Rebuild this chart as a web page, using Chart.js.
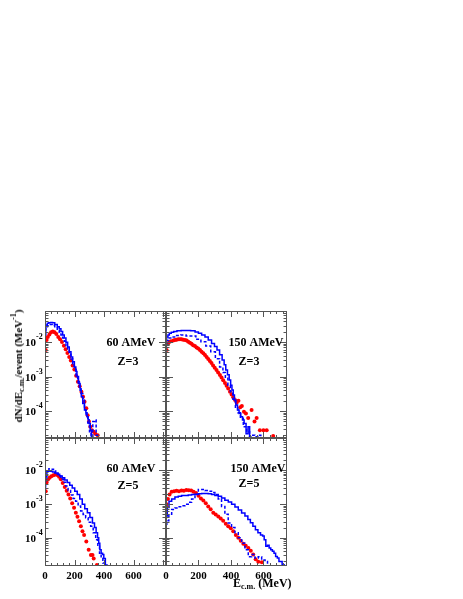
<!DOCTYPE html>
<html>
<head>
<meta charset="utf-8">
<script src="https://cdn.jsdelivr.net/npm/chart.js@4.4.1/dist/chart.umd.min.js"></script>
<style>
  body { margin: 0; background: #fff; }
  #wrap { position: relative; width: 463px; height: 599px; }
  #wrap canvas { position: absolute; left: 0; top: 0; }
  .lbl { position: absolute; font: bold 12px "Liberation Serif", "Times New Roman", serif; color: #000; white-space: nowrap; line-height: 1; }
  .lbl sub { font-size: 8px; vertical-align: -2px; }
  .lbl sup { font-size: 8px; vertical-align: 6px; }
  #ytitle { left: 18px; top: 366px; font-size: 11px; transform: translate(-50%, -50%) rotate(-90deg); }
  #xtitle { left: 233px; top: 577px; }
</style>
</head>
<body>
<div id="wrap">
  <canvas id="pTL" width="463" height="599"></canvas>
  <canvas id="pTR" width="463" height="599"></canvas>
  <canvas id="pBL" width="463" height="599"></canvas>
  <canvas id="pBR" width="463" height="599"></canvas>
  <div class="lbl" id="ytitle">dN/dE<sub>c.m.</sub>/event (MeV<sup>-1</sup>)</div>
  <div class="lbl" id="xtitle">E<sub>c.m.</sub> (MeV)</div>
</div>
<script>
// ---- data (E in MeV, dN/dE in 1/MeV) ----

// 60 AMeV, Z=3
var tlSolidE = [0, 11, 20, 30, 45, 57, 75, 91, 102, 114, 125, 136, 148, 159, 170, 182, 193, 205, 213, 220, 234, 242, 250, 262, 273, 281, 289, 296, 302, 311, 318, 325];
var tlSolidV = [2.0e-2, 3.1e-2, 3.5e-2, 3.6e-2, 3.7e-2, 3.6e-2, 3.2e-2, 2.75e-2, 2.4e-2, 2.0e-2, 1.6e-2, 1.3e-2, 9.8e-3, 7.2e-3, 5.2e-3, 3.7e-3, 2.7e-3, 1.9e-3, 1.4e-3, 1.0e-3, 6.3e-4, 4.0e-4, 2.6e-4, 1.66e-4, 1.07e-4, 8.9e-5, 6.8e-5, 5.6e-5, 4.4e-5, 2.8e-5, 1.8e-5, 1.0e-5];
var tlDashE = [0, 11, 22, 34, 45, 57, 75, 91, 102, 114, 125, 136, 148, 159, 170, 182, 193, 205, 216, 227, 239, 250, 262, 273, 284, 296, 307, 318, 330, 341, 352, 360];
var tlDashV = [1.6e-2, 2.5e-2, 2.95e-2, 3.2e-2, 3.2e-2, 3.0e-2, 2.6e-2, 2.2e-2, 1.9e-2, 1.6e-2, 1.3e-2, 1.05e-2, 7.9e-3, 6.0e-3, 4.4e-3, 3.2e-3, 2.2e-3, 1.6e-3, 1.05e-3, 7.1e-4, 4.7e-4, 3.2e-4, 2.1e-4, 1.1e-4, 7.9e-5, 4.5e-5, 2.5e-5, 1.8e-5, 5.0e-5, 5.5e-5, 2.0e-5, 1.0e-5];
var tlRedE = [5, 11, 19, 30, 41, 53, 65, 77, 90, 102, 115, 128, 140, 152, 164, 175, 187, 199, 211, 223, 235, 247, 258, 268, 280, 289, 298, 307, 318, 330, 341, 357];
var tlRedV = [5.9e-3, 1.15e-2, 1.4e-2, 1.66e-2, 1.9e-2, 2.0e-2, 1.9e-2, 1.7e-2, 1.4e-2, 1.2e-2, 1.0e-2, 7.8e-3, 6.2e-3, 4.8e-3, 3.7e-3, 2.9e-3, 2.1e-3, 1.6e-3, 1.05e-3, 7.1e-4, 5.2e-4, 3.6e-4, 2.6e-4, 1.86e-4, 1.2e-4, 7.6e-5, 5.0e-5, 3.5e-5, 2.8e-5, 2.5e-5, 2.2e-5, 2.0e-5];

// 150 AMeV, Z=3
var trSolidE = [0, 8, 16, 25, 40, 55, 80, 107, 135, 168, 190, 209, 230, 250, 270, 291, 306, 322, 338, 353, 363, 373, 384, 394, 402, 410, 418, 425, 435, 445, 455, 466, 476, 486, 500, 510, 520, 530];
var trSolidV = [1.1e-2, 1.4e-2, 1.6e-2, 1.8e-2, 1.9e-2, 2.0e-2, 2.1e-2, 2.15e-2, 2.15e-2, 2.1e-2, 1.95e-2, 1.8e-2, 1.6e-2, 1.4e-2, 1.15e-2, 9.1e-3, 7.4e-3, 5.9e-3, 4.3e-3, 3.0e-3, 2.2e-3, 1.55e-3, 1.12e-3, 7.9e-4, 5.6e-4, 4.1e-4, 2.9e-4, 2.1e-4, 1.5e-4, 1.07e-4, 8.5e-5, 6.8e-5, 5.5e-5, 4.4e-5, 2.2e-5, 3.5e-5, 1.6e-5, 1.0e-5];
var trDashE = [0, 10, 25, 45, 75, 107, 140, 168, 200, 230, 260, 291, 317, 343, 358, 373, 389, 404, 420, 435, 450, 466, 486, 507, 522, 537, 557, 578, 590];
var trDashV = [7.9e-3, 1.1e-2, 1.3e-2, 1.4e-2, 1.55e-2, 1.6e-2, 1.5e-2, 1.5e-2, 1.2e-2, 1.02e-2, 7.6e-3, 5.2e-3, 3.3e-3, 1.9e-3, 1.3e-3, 8.9e-4, 5.6e-4, 3.6e-4, 2.2e-4, 1.3e-4, 8.9e-5, 6.2e-5, 3.5e-5, 2.5e-5, 1.8e-5, 2.0e-5, 1.8e-5, 2.0e-5, 1.0e-5];
var trRedE = [4, 12, 20, 30, 45, 55, 65, 75, 86, 96, 106, 117, 127, 137, 147, 157, 167, 178, 188, 198, 209, 219, 230, 240, 250, 260, 270, 280, 290, 300, 311, 321, 332, 342, 352, 363, 373, 383, 394, 404, 414, 425, 435, 446, 457, 467, 480, 492, 506, 527, 545, 558, 578, 600, 620, 660];
var trRedV = [5.9e-3, 8.7e-3, 1.0e-2, 1.05e-2, 1.1e-2, 1.15e-2, 1.17e-2, 1.2e-2, 1.2e-2, 1.2e-2, 1.17e-2, 1.15e-2, 1.1e-2, 1.02e-2, 9.5e-3, 8.9e-3, 8.1e-3, 7.6e-3, 6.9e-3, 6.5e-3, 5.9e-3, 5.2e-3, 4.7e-3, 4.2e-3, 3.7e-3, 3.2e-3, 2.8e-3, 2.45e-3, 2.1e-3, 1.8e-3, 1.55e-3, 1.3e-3, 1.1e-3, 9.3e-4, 7.8e-4, 6.5e-4, 5.4e-4, 4.5e-4, 3.6e-4, 3.0e-4, 2.5e-4, 2.1e-4, 1.74e-4, 2.0e-4, 1.3e-4, 1.4e-4, 9.5e-5, 8.5e-5, 6.3e-5, 1.07e-4, 5.0e-5, 6.3e-5, 2.8e-5, 2.8e-5, 2.8e-5, 1.9e-5];
var trEdgeE = [0, 0];
var trEdgeV = [1e-6, 1];

// 60 AMeV, Z=5
var blSolidE = [0, 11, 20, 30, 45, 57, 75, 91, 108, 125, 142, 159, 176, 193, 210, 227, 244, 261, 278, 296, 313, 330, 341, 352, 360, 368, 375, 386, 395, 402, 416, 425];
var blSolidV = [5.4e-3, 8.5e-3, 9.3e-3, 9.5e-3, 9.3e-3, 8.9e-3, 8.3e-3, 7.6e-3, 6.8e-3, 6.0e-3, 5.1e-3, 4.3e-3, 3.6e-3, 3.0e-3, 2.4e-3, 1.9e-3, 1.4e-3, 9.8e-4, 7.2e-4, 5.5e-4, 4.0e-4, 2.75e-4, 2.0e-4, 1.4e-4, 1.0e-4, 6.9e-5, 4.4e-5, 3.5e-5, 3.2e-5, 2.45e-5, 1.55e-5, 1.0e-5];
var blDashE = [0, 8, 18, 35, 50, 65, 80, 98, 115, 132, 148, 165, 182, 199, 216, 233, 250, 267, 284, 301, 318, 335, 352, 364, 375, 386, 398, 410];
var blDashV = [3.2e-3, 6.3e-3, 9.5e-3, 1.1e-2, 1.07e-2, 9.5e-3, 8.3e-3, 6.9e-3, 5.5e-3, 4.4e-3, 3.4e-3, 2.5e-3, 1.86e-3, 1.45e-3, 1.2e-3, 8.7e-4, 6.2e-4, 4.9e-4, 3.9e-4, 2.9e-4, 2.2e-4, 1.4e-4, 8.7e-5, 5.6e-5, 3.5e-5, 2.5e-5, 1.8e-5, 1.0e-5];
var blRedE = [5, 11, 20, 31, 43, 57, 70, 83, 95, 107, 120, 134, 147, 159, 171, 184, 197, 209, 220, 231, 243, 254, 265, 280, 296, 311, 322, 330, 352];
var blRedV = [2.4e-3, 4.3e-3, 5.3e-3, 6.0e-3, 6.6e-3, 7.1e-3, 7.5e-3, 7.2e-3, 6.4e-3, 5.4e-3, 4.2e-3, 3.2e-3, 2.45e-3, 1.9e-3, 1.45e-3, 1.05e-3, 7.7e-4, 5.5e-4, 4.2e-4, 3.1e-4, 2.2e-4, 1.55e-4, 1.2e-4, 7.8e-5, 4.4e-5, 3.1e-5, 3.1e-5, 2.45e-5, 1.55e-5];

// 150 AMeV, Z=5
var brSolidE = [0, 4, 12, 25, 45, 65, 86, 106, 127, 147, 168, 188, 209, 230, 250, 270, 291, 311, 332, 352, 373, 394, 414, 435, 455, 476, 496, 512, 527, 543, 558, 574, 590, 600, 609, 620, 630, 640, 650, 660, 670, 680, 691, 700, 710, 720, 735];
var brSolidV = [3.2e-4, 4.4e-4, 7.9e-4, 1.2e-3, 1.4e-3, 1.6e-3, 1.7e-3, 1.8e-3, 1.8e-3, 1.86e-3, 1.9e-3, 1.95e-3, 2.0e-3, 2.05e-3, 2.05e-3, 2.0e-3, 1.9e-3, 1.8e-3, 1.7e-3, 1.5e-3, 1.3e-3, 1.15e-3, 9.8e-4, 8.1e-4, 6.6e-4, 5.4e-4, 4.4e-4, 3.5e-4, 2.8e-4, 2.2e-4, 1.74e-4, 1.4e-4, 1.2e-4, 1.12e-4, 8.7e-5, 5.6e-5, 6.0e-5, 5.0e-5, 4.4e-5, 4.0e-5, 3.5e-5, 2.8e-5, 2.5e-5, 2.0e-5, 2.0e-5, 1.6e-5, 1.26e-5];
var brDashE = [0, 10, 25, 45, 65, 86, 106, 127, 147, 168, 189, 209, 230, 250, 270, 291, 311, 332, 352, 373, 393, 414, 435, 455, 476, 496, 517, 537, 558, 578, 600, 620, 630];
var brDashV = [2.5e-4, 3.2e-4, 5.0e-4, 6.9e-4, 7.6e-4, 8.3e-4, 8.9e-4, 9.8e-4, 1.12e-3, 1.4e-3, 1.9e-3, 2.7e-3, 2.7e-3, 2.5e-3, 2.4e-3, 2.2e-3, 1.9e-3, 1.4e-3, 8.5e-4, 5.0e-4, 2.75e-4, 2.0e-4, 1.4e-4, 1.0e-4, 6.9e-5, 4.4e-5, 2.75e-5, 3.2e-5, 2.5e-5, 2.75e-5, 2.2e-5, 2.0e-5, 1.0e-5];
var brRedE = [4, 12, 22, 35, 50, 65, 80, 96, 110, 125, 140, 155, 170, 185, 200, 215, 230, 245, 260, 275, 291, 306, 322, 337, 352, 368, 383, 399, 414, 430, 445, 460, 476, 491, 507, 522, 537, 552, 568, 590];
var brRedV = [9.8e-4, 1.4e-3, 1.9e-3, 2.3e-3, 2.4e-3, 2.45e-3, 2.4e-3, 2.5e-3, 2.45e-3, 2.6e-3, 2.55e-3, 2.5e-3, 2.3e-3, 2.1e-3, 1.75e-3, 1.45e-3, 1.26e-3, 1.05e-3, 8.5e-4, 7.0e-4, 5.5e-4, 4.9e-4, 4.3e-4, 3.7e-4, 3.2e-4, 2.6e-4, 2.2e-4, 1.9e-4, 1.55e-4, 1.2e-4, 1.0e-4, 8.2e-5, 6.6e-5, 5.8e-5, 5.0e-5, 4.1e-5, 3.2e-5, 2.3e-5, 1.95e-5, 1.9e-5];
var brEdgeE = [0, 0];
var brEdgeV = [2.5e-4, 1];

// axis ticks
var xTickLabels = [0, 200, 400, 600];
var yTickExps = [-4, -3, -2];

function pts(xs, ys) {
  return xs.map(function(x, i) { return { x: x, y: ys[i] }; });
}

// ROOT-like frame: box, inward ticks on all sides, labels, panel text
var rootFrame = {
  id: 'rootFrame',
  afterDraw: function(chart, args, o) {
    var ctx = chart.ctx, a = chart.chartArea;
    var xs = chart.scales.x, ys = chart.scales.y;
    ctx.save();
    ctx.strokeStyle = '#555';
    ctx.lineWidth = 1;
    ctx.strokeRect(Math.round(a.left) + 0.5, Math.round(a.top) + 0.5, Math.round(a.width) - 1, Math.round(a.height) - 1);

    ctx.beginPath();
    // y ticks (log decades)
    for (var e = -6; e <= 0; e++) {
      for (var k = 1; k <= 9; k++) {
        var v = k * Math.pow(10, e);
        if (v < ys.min || v > ys.max) continue;
        var py = Math.round(ys.getPixelForValue(v)) + 0.5;
        var len = k === 1 ? 7 : 3.5;
        ctx.moveTo(a.left, py); ctx.lineTo(a.left + len, py);
        ctx.moveTo(a.right, py); ctx.lineTo(a.right - len, py);
      }
    }
    // x ticks
    for (var t = 0; t <= xs.max; t += 40) {
      var px = Math.round(xs.getPixelForValue(t)) + 0.5;
      var l2 = t % 200 === 0 ? 6 : 3;
      ctx.moveTo(px, a.bottom); ctx.lineTo(px, a.bottom - l2);
      ctx.moveTo(px, a.top); ctx.lineTo(px, a.top + l2);
    }
    ctx.stroke();

    ctx.fillStyle = '#000';
    if (o.yLabels) {
      yTickExps.forEach(function(ex) {
        var py = ys.getPixelForValue(Math.pow(10, ex));
        ctx.font = 'bold 11px "Liberation Serif", serif';
        ctx.textAlign = 'right';
        ctx.fillText('10', a.left - 9, py + 4);
        ctx.font = 'bold 8px "Liberation Serif", serif';
        ctx.textAlign = 'left';
        ctx.fillText(String(ex), a.left - 9, py - 3);
      });
    }
    if (o.xLabels) {
      ctx.font = 'bold 11px "Liberation Serif", serif';
      ctx.textAlign = 'center';
      xTickLabels.forEach(function(t) {
        ctx.fillText(String(t), xs.getPixelForValue(t), a.bottom + 13);
      });
    }
    if (o.text) {
      ctx.font = 'bold 12px "Liberation Serif", serif';
      ctx.textAlign = 'center';
      o.text.forEach(function(s, i) {
        ctx.fillText(s, a.left + o.textX[i], a.top + o.textY[i]);
      });
    }
    ctx.restore();
  }
};

function makePanel(id, rect, xMax, yMin, yMax, series, frameOpts) {
  var cv = document.getElementById(id);
  var W = cv.width, H = cv.height;
  var ds = [
    { data: series.solid, showLine: true, borderColor: '#0000ff', borderWidth: 1.5, pointRadius: 0, stepped: 'middle', fill: false },
    { data: series.dash, showLine: true, borderColor: '#0000ff', borderWidth: 1.5, borderDash: [3, 2], pointRadius: 0, stepped: 'middle', fill: false },
    { data: series.red, showLine: false, pointRadius: 2, pointBackgroundColor: '#ff0000', pointBorderWidth: 0 }
  ];
  if (series.edge) {
    ds.push({ data: series.edge, showLine: true, borderColor: '#0000ff', borderWidth: 1.5, pointRadius: 0 });
  }
  return new Chart(cv, {
    type: 'scatter',
    data: { datasets: ds },
    options: {
      responsive: false,
      animation: false,
      layout: { padding: { left: rect[0], top: rect[1], right: W - rect[2], bottom: H - rect[3] } },
      plugins: { legend: { display: false }, tooltip: { enabled: false }, rootFrame: frameOpts },
      scales: {
        x: { type: 'linear', min: 0, max: xMax, display: false },
        y: { type: 'logarithmic', min: yMin, max: yMax, display: false }
      }
    },
    plugins: [rootFrame]
  });
}

var LEFT_XMAX = 820, RIGHT_XMAX = 745;
var TOP_YMIN = 1.66e-5, TOP_YMAX = 0.079;
var BOT_YMIN = 1.46e-5, BOT_YMAX = 0.09;

makePanel('pTL', [45, 311, 166, 438], LEFT_XMAX, TOP_YMIN, TOP_YMAX,
  { solid: pts(tlSolidE, tlSolidV), dash: pts(tlDashE, tlDashV), red: pts(tlRedE, tlRedV) },
  { yLabels: true, xLabels: false, text: ['60 AMeV', 'Z=3'], textX: [86, 83], textY: [35, 54] });
makePanel('pTR', [166, 311, 287, 438], RIGHT_XMAX, TOP_YMIN, TOP_YMAX,
  { solid: pts(trSolidE, trSolidV), dash: pts(trDashE, trDashV), red: pts(trRedE, trRedV), edge: pts(trEdgeE, trEdgeV) },
  { yLabels: false, xLabels: false, text: ['150 AMeV', 'Z=3'], textX: [90, 83], textY: [35, 54] });
makePanel('pBL', [45, 438, 166, 566], LEFT_XMAX, BOT_YMIN, BOT_YMAX,
  { solid: pts(blSolidE, blSolidV), dash: pts(blDashE, blDashV), red: pts(blRedE, blRedV) },
  { yLabels: true, xLabels: true, text: ['60 AMeV', 'Z=5'], textX: [86, 83], textY: [34, 51] });
makePanel('pBR', [166, 438, 287, 566], RIGHT_XMAX, BOT_YMIN, BOT_YMAX,
  { solid: pts(brSolidE, brSolidV), dash: pts(brDashE, brDashV), red: pts(brRedE, brRedV), edge: pts(brEdgeE, brEdgeV) },
  { yLabels: false, xLabels: true, text: ['150 AMeV', 'Z=5'], textX: [92, 83], textY: [34, 49] });
</script>
</body>
</html>
